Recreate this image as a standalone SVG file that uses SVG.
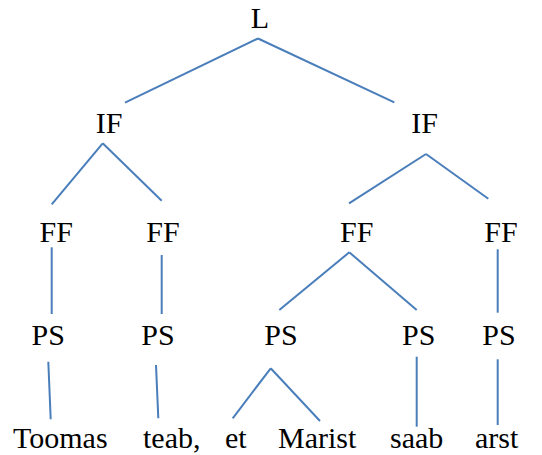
<svg xmlns="http://www.w3.org/2000/svg" width="542" height="455" viewBox="0 0 542 455">
<style>
text{font-size:30px;fill:#000}
.m{text-anchor:middle}
#edges line{stroke:#4a7ebb;stroke-width:2;fill:none}
</style>
<rect width="542" height="455" fill="#fff"/>
<g id="edges">
<line x1="258" y1="38.5" x2="125" y2="102.7"/>
<line x1="258" y1="38.5" x2="394.3" y2="102.3"/>
<line x1="102.7" y1="143.3" x2="51.7" y2="204.3"/>
<line x1="102.7" y1="143.3" x2="161.7" y2="200.7"/>
<line x1="426" y1="154" x2="349" y2="203.3"/>
<line x1="426" y1="154" x2="488.3" y2="198.7"/>
<line x1="51.7" y1="247.3" x2="51.7" y2="314"/>
<line x1="161.7" y1="255" x2="161.7" y2="314"/>
<line x1="349.3" y1="252.3" x2="279.3" y2="310"/>
<line x1="349.3" y1="252.3" x2="416.7" y2="310"/>
<line x1="497.7" y1="249.3" x2="497.7" y2="312.7"/>
<line x1="48.3" y1="361.7" x2="50.7" y2="419.3"/>
<line x1="156" y1="365" x2="158.3" y2="418.3"/>
<line x1="270.7" y1="368.3" x2="232.7" y2="418.3"/>
<line x1="270.7" y1="368.3" x2="320" y2="421"/>
<line x1="416.7" y1="356.7" x2="416.7" y2="426.7"/>
<line x1="497.7" y1="359.3" x2="497.7" y2="425"/>
</g>
<g font-family="Liberation Serif, serif">
<g id="n-L"><text class="m" x="260" y="28.3">L</text></g>
<g id="n-IF1"><text class="m" x="109" y="133.3">IF</text></g>
<g id="n-IF2"><text class="m" x="424.7" y="133.3">IF</text></g>
<g id="n-FF1"><text class="m" x="56.2" y="241.7">FF</text></g>
<g id="n-FF2"><text class="m" x="163" y="241.7">FF</text></g>
<g id="n-FF3"><text class="m" x="356.7" y="241.7">FF</text></g>
<g id="n-FF4"><text class="m" x="501" y="241.7">FF</text></g>
<g id="n-PS1"><text class="m" x="48.3" y="345">PS</text></g>
<g id="n-PS2"><text class="m" x="158" y="345">PS</text></g>
<g id="n-PS3"><text class="m" x="281" y="345">PS</text></g>
<g id="n-PS4"><text class="m" x="418.7" y="345">PS</text></g>
<g id="n-PS5"><text class="m" x="499" y="345">PS</text></g>
<g id="w-toomas"><text x="13" y="448">Toomas</text></g>
<g id="w-teab"><text x="143" y="448">teab,</text></g>
<g id="w-et"><text x="225" y="448">et</text></g>
<g id="w-marist"><text x="278" y="448">Marist</text></g>
<g id="w-saab"><text x="390" y="448">saab</text></g>
<g id="w-arst"><text x="475" y="448">arst</text></g>
</g>
</svg>
